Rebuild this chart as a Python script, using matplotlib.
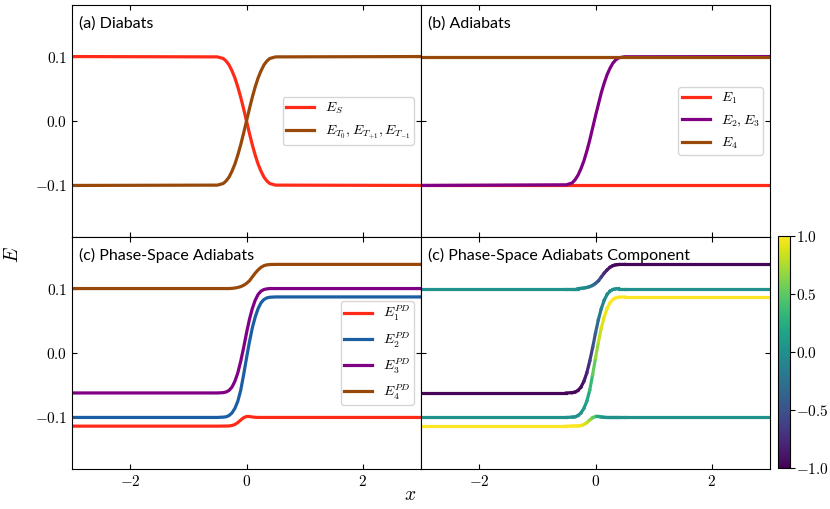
import numpy as np
import matplotlib.pyplot as plt
from matplotlib.collections import LineCollection
from matplotlib.ticker import FuncFormatter

plt.rcParams['mathtext.fontset'] = 'cm'

# shared x samples (denser near the crossing)
x = [-3.0, -0.5, -0.4, -0.35, -0.3, -0.25, -0.2, -0.15, -0.1, -0.05, 0.0,
     0.05, 0.1, 0.15, 0.2, 0.25, 0.3, 0.35, 0.4, 0.5, 3.0]

# (a) diabats
e_s = [0.1, 0.0995, 0.097, 0.093, 0.087, 0.078, 0.067, 0.053, 0.037, 0.019, 0.0,
       -0.019, -0.037, -0.053, -0.067, -0.078, -0.087, -0.093, -0.097, -0.0995, -0.1]
e_t = [-0.1, -0.0995, -0.097, -0.093, -0.087, -0.078, -0.067, -0.053, -0.037, -0.019, 0.0,
       0.019, 0.037, 0.053, 0.067, 0.078, 0.087, 0.093, 0.097, 0.0995, 0.1]

# (b) adiabats
e1_b = [-0.1] * 21
e23_b = [-0.1, -0.099, -0.096, -0.091, -0.084, -0.074, -0.062, -0.047, -0.030, -0.011, 0.008,
         0.026, 0.044, 0.059, 0.072, 0.082, 0.090, 0.095, 0.098, 0.0997, 0.1]
e4_b = [0.1] * 21

# (c) phase-space adiabats
e1_pd = [-0.1135, -0.1135, -0.1134, -0.1133, -0.1132, -0.1125, -0.111, -0.108, -0.104, -0.1005, -0.0985,
         -0.0985, -0.0993, -0.0998, -0.1, -0.1, -0.1, -0.1, -0.1, -0.1, -0.1]
e2_pd = [-0.1, -0.1, -0.0995, -0.099, -0.097, -0.093, -0.086, -0.075, -0.058, -0.034, -0.008,
         0.017, 0.039, 0.056, 0.069, 0.078, 0.083, 0.0855, 0.0865, 0.087, 0.087]
e3_pd = [-0.062, -0.062, -0.0615, -0.0605, -0.058, -0.053, -0.044, -0.031, -0.013, 0.008, 0.031,
         0.052, 0.069, 0.082, 0.091, 0.096, 0.0985, 0.0995, 0.1, 0.1, 0.1]
e4_pd = [0.1, 0.1, 0.1, 0.1, 0.1, 0.1003, 0.1008, 0.1017, 0.103, 0.105, 0.108,
         0.112, 0.118, 0.124, 0.129, 0.133, 0.1355, 0.1368, 0.1373, 0.1375, 0.1375]

# (d) component value along each phase-space adiabat
c1 = [1.0, 1.0, 1.0, 1.0, 0.99, 0.97, 0.94, 0.88, 0.76, 0.58, 0.38,
      0.22, 0.11, 0.05, 0.02, 0.01, 0.0, 0.0, 0.0, 0.0, 0.0]
c2 = [0.0, 0.0, 0.0, 0.0, 0.01, 0.03, 0.06, 0.13, 0.26, 0.44, 0.62,
      0.77, 0.87, 0.93, 0.97, 0.99, 1.0, 1.0, 1.0, 1.0, 1.0]
c3 = [-0.98, -0.98, -0.98, -0.98, -0.97, -0.95, -0.91, -0.84, -0.72, -0.56, -0.4,
      -0.26, -0.15, -0.08, -0.04, -0.02, -0.01, 0.0, 0.0, 0.0, 0.0]
c4 = [0.0, 0.0, 0.0, 0.0, -0.01, -0.02, -0.04, -0.08, -0.14, -0.22, -0.32,
      -0.46, -0.6, -0.73, -0.83, -0.9, -0.94, -0.96, -0.97, -0.97, -0.97]

RED = '#ff2a17'
BROWN = '#98490a'
PURPLE = '#800085'
BLUE = '#1c5ea3'
LW = 2.3

fig, axs = plt.subplots(2, 2, figsize=(8.3, 5.09), dpi=100, sharex=True, sharey=True)
fig.subplots_adjust(left=72/830, right=770/830, top=1-5/509, bottom=1-469/509,
                    wspace=0, hspace=0)
ax_a, ax_b = axs[0]
ax_c, ax_d = axs[1]

ax_a.plot(x, e_s, color=RED, lw=LW, label='$E_S$')
ax_a.plot(x, e_t, color=BROWN, lw=LW, label='$E_{T_0}, E_{T_{+1}}, E_{T_{-1}}$')

ax_b.plot(x, e1_b, color=RED, lw=LW, label='$E_1$')
ax_b.plot(x, e23_b, color=PURPLE, lw=LW, label='$E_2, E_3$')
ax_b.plot(x, e4_b, color=BROWN, lw=LW, label='$E_4$')

ax_c.plot(x, e1_pd, color=RED, lw=LW, label='$E_1^{PD}$')
ax_c.plot(x, e2_pd, color=BLUE, lw=LW, label='$E_2^{PD}$')
ax_c.plot(x, e3_pd, color=PURPLE, lw=LW, label='$E_3^{PD}$')
ax_c.plot(x, e4_pd, color=BROWN, lw=LW, label='$E_4^{PD}$')

# colored lines for the component panel
norm = plt.Normalize(-1, 1)
for ys, cs in [(e1_pd, c1), (e2_pd, c2), (e3_pd, c3), (e4_pd, c4)]:
    pts = np.array([x, ys]).T.reshape(-1, 1, 2)
    segs = np.concatenate([pts[:-1], pts[1:]], axis=1)
    cmid = (np.array(cs[:-1]) + np.array(cs[1:])) / 2
    lc = LineCollection(segs, cmap='viridis', norm=norm, lw=LW, capstyle='projecting')
    lc.set_array(cmid)
    ax_d.add_collection(lc)

for ax in axs.flat:
    ax.set_xlim(-3, 3)
    ax.set_ylim(-0.18, 0.18)
    ax.set_xticks([-2, 0, 2])
    ax.set_yticks([-0.1, 0.0, 0.1])
    ax.tick_params(direction='in', top=True, right=True, labelsize=11)
    ax.xaxis.set_major_formatter(FuncFormatter(lambda v, p: '$%g$' % v))
    ax.yaxis.set_major_formatter(FuncFormatter(lambda v, p: '$%.1f$' % v))

titles = ['(a) Diabats', '(b) Adiabats', '(c) Phase-Space Adiabats',
          '(c) Phase-Space Adiabats Component']
for ax, t in zip(axs.flat, titles):
    ax.text(0.02, 0.922, t, transform=ax.transAxes, va='center', ha='left',
            fontsize=11.5, family='Lato')

for ax in [ax_a, ax_b, ax_c]:
    ax.legend(loc='center right', fontsize=10, borderpad=0.25)

cax = fig.add_axes([778/830, 41/509, 12/830, 232/509])
sm = plt.cm.ScalarMappable(cmap='viridis', norm=norm)
cb = fig.colorbar(sm, cax=cax)
cb.set_ticks([-1.0, -0.5, 0.0, 0.5, 1.0])
cb.ax.yaxis.set_major_formatter(FuncFormatter(lambda v, p: '$%.1f$' % v))
cb.ax.tick_params(labelsize=11, pad=1)

fig.text(12/830, 0.5, '$E$', rotation=90, va='center', ha='center', fontsize=14)
fig.text(410/830, 1-495/509, '$x$', va='center', ha='center', fontsize=14)

plt.savefig('out.png')
